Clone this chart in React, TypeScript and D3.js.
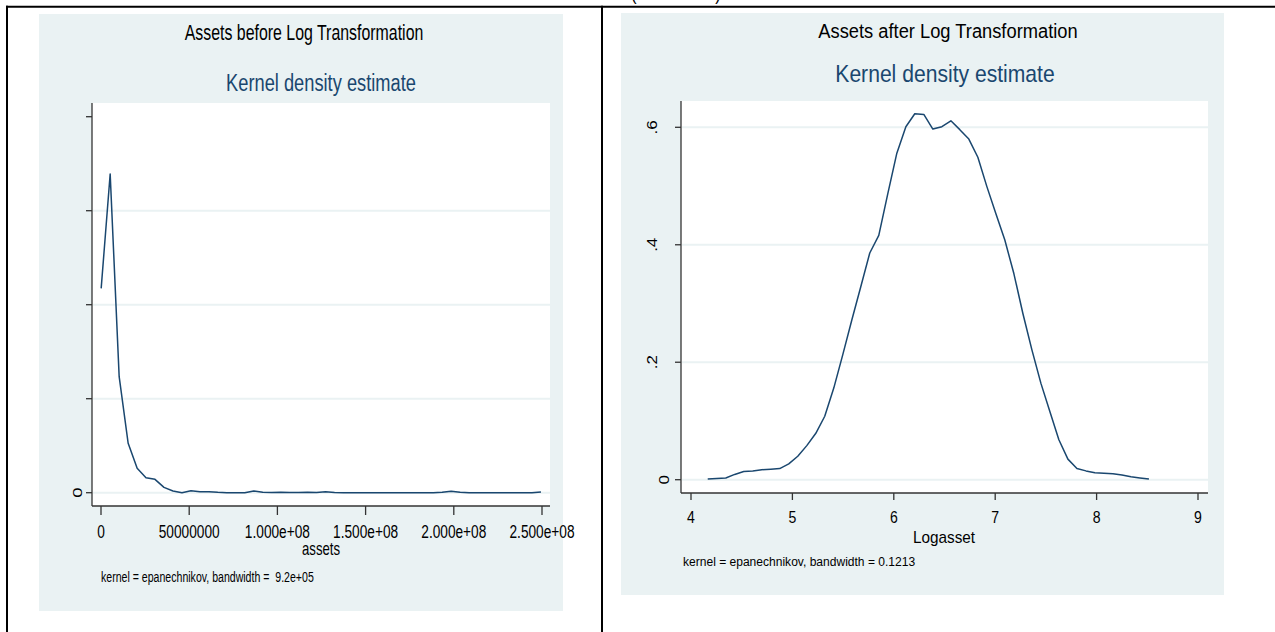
import React from 'react';
import * as d3 from 'd3';

// ---------- Left panel data: assets (millions) vs density (x1e-8) ----------
const assetsX = [
  0.1, 5.2, 10.3, 15.4, 20.5, 25.5, 30.6, 35.7, 40.8, 45.9,
  51.0, 56.1, 61.2, 66.2, 71.3, 76.4, 81.5, 86.6, 91.7, 96.8,
  101.9, 106.9, 112.0, 117.1, 122.2, 127.3, 132.4, 137.5, 142.6, 147.7,
  152.7, 157.8, 162.9, 168.0, 173.1, 178.2, 183.3, 188.4, 193.4, 198.5,
  203.6, 208.7, 213.8, 218.9, 224.0, 229.1, 234.1, 239.2, 244.3, 249.4,
];
const assetsDensity = [
  2.174, 3.39, 1.234, 0.525, 0.259, 0.16, 0.142, 0.057, 0.018, 0.0,
  0.021, 0.011, 0.011, 0.004, 0.0, 0.0, 0.0, 0.018, 0.005, 0.002,
  0.004, 0.001, 0.001, 0.006, 0.001, 0.009, 0.002, 0.0, 0.0, 0.0,
  0.0, 0.0, 0.0, 0.0, 0.0, 0.0, 0.0, 0.0, 0.004, 0.016,
  0.004, 0.0, 0.0, 0.0, 0.0, 0.0, 0.0, 0.0, 0.0, 0.008,
];
const assetsXTicks = [0, 5e7, 1e8, 1.5e8, 2e8, 2.5e8];
const assetsXTickLabels = ['0', '50000000', '1.000e+08', '1.500e+08', '2.000e+08', '2.500e+08'];
const assetsYTicks = [0, 1, 2, 3, 4];
const assetsYTickLabels = ['0', '', '', '', ''];
const assetsGrid = [0, 1, 2, 3];

// ---------- Right panel data: Logasset vs density ----------
const logX = [
  4.165, 4.254, 4.343, 4.431, 4.52, 4.609, 4.698, 4.787, 4.875, 4.964,
  5.053, 5.142, 5.231, 5.319, 5.408, 5.497, 5.586, 5.675, 5.763, 5.852,
  5.941, 6.03, 6.119, 6.207, 6.296, 6.385, 6.474, 6.563, 6.651, 6.74,
  6.829, 6.918, 7.007, 7.095, 7.184, 7.273, 7.362, 7.451, 7.539, 7.628,
  7.717, 7.806, 7.895, 7.983, 8.072, 8.161, 8.25, 8.339, 8.427, 8.516,
];
const logDensity = [
  0.001, 0.002, 0.003, 0.009, 0.014, 0.015, 0.017, 0.018, 0.019, 0.027,
  0.04, 0.058, 0.079, 0.108, 0.156, 0.213, 0.272, 0.329, 0.386, 0.416,
  0.487, 0.556, 0.601, 0.623, 0.622, 0.597, 0.601, 0.611, 0.596, 0.58,
  0.549, 0.499, 0.453, 0.408, 0.351, 0.283, 0.221, 0.164, 0.116, 0.068,
  0.035, 0.019, 0.015, 0.012, 0.011, 0.01, 0.008, 0.005, 0.003, 0.001,
];
const logXTicks = [4, 5, 6, 7, 8, 9];
const logYTicks = [0, 0.2, 0.4, 0.6];
const logYTickLabels = ['0', '.2', '.4', '.6'];

const FONT = "'Liberation Sans', Arial, Helvetica, sans-serif";
const NAVY = '#1a476f';
const BG = '#eaf2f3';
const AXIS = '#333333';

type TProps = {
  x: number; y: number; sx: number; size: number; anchor?: string;
  fill?: string; rotate?: number; children: React.ReactNode;
};
const T = ({ x, y, sx, size, anchor = 'middle', fill = '#000', rotate = 0, children }: TProps) => (
  <text
    transform={`translate(${x},${y}) scale(${sx},1)${rotate ? ` rotate(${rotate})` : ''}`}
    fontSize={size}
    textAnchor={anchor as any}
    fill={fill}
    fontFamily={FONT}
    style={{ whiteSpace: 'pre' }}
  >
    {children}
  </text>
);

export default function App() {
  // ----- left scales -----
  const lx = d3.scaleLinear().domain([0, 2.5e8]).range([101, 542]);
  const ly = d3.scaleLinear().domain([0, 4]).range([492.7, 116.7]);
  const lLine = d3
    .line<number>()
    .x((_, i) => lx(assetsX[i] * 1e6))
    .y((d) => ly(d))(assetsDensity) as string;
  const L = { x0: 92, x1: 550, y0: 103, y1: 506, sx: 0.74 };

  // ----- right scales -----
  const rx = d3.scaleLinear().domain([4, 9]).range([691, 1198]);
  const ry = d3.scaleLinear().domain([0, 0.6]).range([479.7, 127.3]);
  const rLine = d3
    .line<number>()
    .x((_, i) => rx(logX[i]))
    .y((d) => ry(d))(logDensity) as string;
  const R = { x0: 681, x1: 1208, y0: 101, y1: 493, sx: 0.88 };

  return (
    <svg
      width={1275}
      height={632}
      style={{ position: 'absolute', left: 0, top: 0, background: '#fff' }}
    >
      <rect x={0} y={0} width={1275} height={632} fill="#fff" />

      {/* fragment of text above the table */}
      <T x={634} y={0} sx={0.88} size={18}>(</T>
      <T x={718} y={0} sx={0.88} size={18}>)</T>

      {/* ================= LEFT PANEL ================= */}
      <rect x={39} y={14} width={524} height={597} fill={BG} />
      <rect x={L.x0} y={L.y0} width={L.x1 - L.x0} height={L.y1 - L.y0} fill="#fff" />
      {assetsGrid.map((g) => (
        <line key={g} x1={L.x0 + 1} x2={L.x1} y1={ly(g)} y2={ly(g)} stroke={BG} strokeWidth={2} />
      ))}
      <path d={lLine} fill="none" stroke={NAVY} strokeWidth={1.5} strokeLinejoin="round" />
      <line x1={L.x0} x2={L.x0} y1={L.y0} y2={L.y1} stroke={AXIS} strokeWidth={1.3} />
      <line x1={L.x0} x2={L.x1} y1={L.y1} y2={L.y1} stroke={AXIS} strokeWidth={1.3} />
      {assetsYTicks.map((t, i) => (
        <g key={t}>
          <line x1={L.x0 - 6} x2={L.x0} y1={ly(t)} y2={ly(t)} stroke={AXIS} strokeWidth={1.3} />
          {assetsYTickLabels[i] ? (
            <T x={t === 0 ? 81.7 : 70} y={ly(t)} sx={L.sx} size={18.5} rotate={-90}>
              {assetsYTickLabels[i]}
            </T>
          ) : null}
        </g>
      ))}
      {assetsXTicks.map((t, i) => (
        <g key={t}>
          <line x1={lx(t)} x2={lx(t)} y1={L.y1} y2={L.y1 + 9} stroke={AXIS} strokeWidth={1.3} />
          <T x={lx(t)} y={538} sx={L.sx} size={18.5}>{assetsXTickLabels[i]}</T>
        </g>
      ))}
      <T x={304} y={40} sx={L.sx} size={21.5}>Assets before Log Transformation</T>
      <T x={321} y={91} sx={L.sx} size={24.7} fill={NAVY}>Kernel density estimate</T>
      <T x={321} y={555} sx={L.sx} size={17.8}>assets</T>
      <T x={101} y={582} sx={L.sx} size={14.3} anchor="start">
        {'kernel = epanechnikov, bandwidth =  9.2e+05'}
      </T>

      {/* ================= RIGHT PANEL ================= */}
      <rect x={621} y={13} width={603} height={582} fill={BG} />
      <rect x={R.x0} y={R.y0} width={R.x1 - R.x0} height={R.y1 - R.y0} fill="#fff" />
      {logYTicks.map((g) => (
        <line key={g} x1={R.x0 + 1} x2={R.x1} y1={ry(g)} y2={ry(g)} stroke={BG} strokeWidth={2} />
      ))}
      <path d={rLine} fill="none" stroke={NAVY} strokeWidth={1.5} strokeLinejoin="round" />
      <line x1={R.x0} x2={R.x0} y1={R.y0} y2={R.y1} stroke={AXIS} strokeWidth={1.3} />
      <line x1={R.x0} x2={R.x1} y1={R.y1} y2={R.y1} stroke={AXIS} strokeWidth={1.3} />
      {logYTicks.map((t, i) => (
        <g key={t}>
          <line x1={R.x0 - 6} x2={R.x0} y1={ry(t)} y2={ry(t)} stroke={AXIS} strokeWidth={1.3} />
          <T x={t === 0 ? 669 : 657} y={ry(t)} sx={R.sx} size={17} rotate={-90}>
            {logYTickLabels[i]}
          </T>
        </g>
      ))}
      {logXTicks.map((t) => (
        <g key={t}>
          <line x1={rx(t)} x2={rx(t)} y1={R.y1} y2={R.y1 + 7} stroke={AXIS} strokeWidth={1.3} />
          <T x={rx(t)} y={523.3} sx={R.sx} size={16}>{String(t)}</T>
        </g>
      ))}
      <T x={948} y={38} sx={R.sx} size={20.8}>Assets after Log Transformation</T>
      <T x={945} y={82} sx={R.sx} size={24} fill={NAVY}>Kernel density estimate</T>
      <T x={944} y={543} sx={R.sx} size={17.4}>Logasset</T>
      <T x={683} y={566} sx={R.sx} size={13.7} anchor="start">
        kernel = epanechnikov, bandwidth = 0.1213
      </T>

      {/* ================= TABLE BORDERS ================= */}
      <line x1={6} x2={1275} y1={6.7} y2={6.7} stroke="#000" strokeWidth={2} />
      <line x1={7} x2={7} y1={5.7} y2={632} stroke="#000" strokeWidth={2} />
      <line x1={602} x2={602} y1={5.7} y2={632} stroke="#000" strokeWidth={2} />
    </svg>
  );
}
